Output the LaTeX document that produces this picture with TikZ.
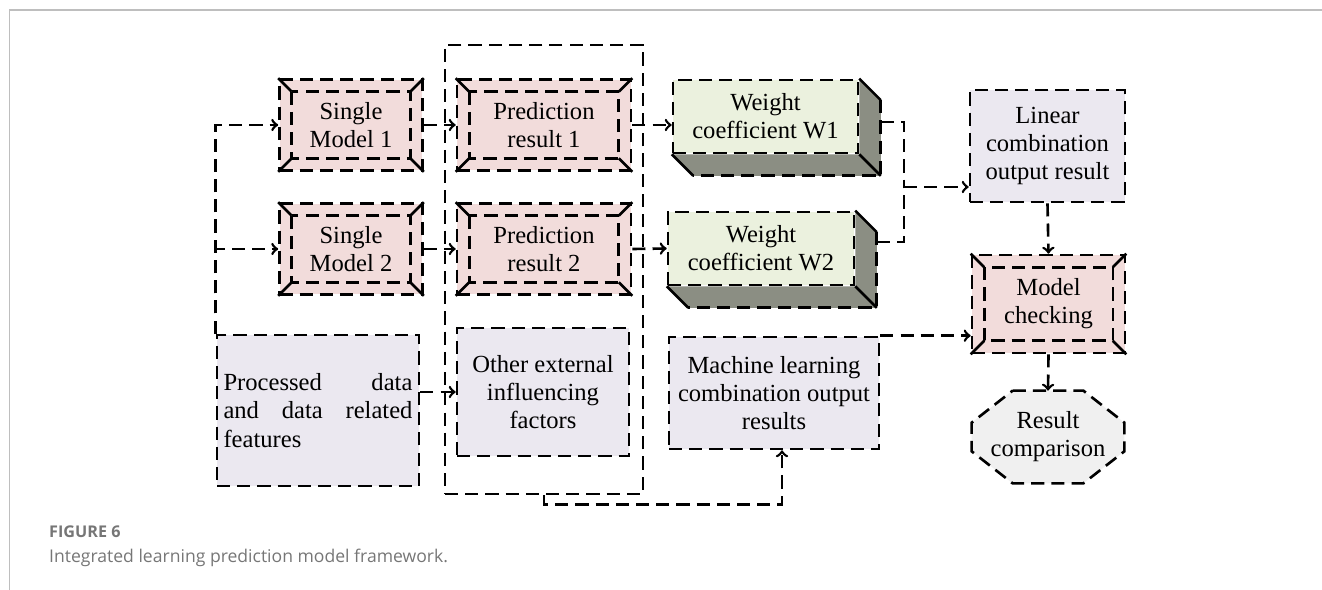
\documentclass[tikz,border=0pt]{standalone}
\usepackage{fontspec}
\setmainfont{Liberation Serif}
\newfontfamily\capfont{Open Sans}
\usetikzlibrary{arrows,calc,backgrounds}
\definecolor{bx_pink}{RGB}{242,220,219}
\definecolor{bx_green}{RGB}{235,241,222}
\definecolor{bx_shade}{RGB}{139,142,131}
\definecolor{bx_lilac}{RGB}{235,232,240}
\definecolor{bx_grey}{RGB}{240,240,240}
\definecolor{cap_grey}{RGB}{118,118,118}
\definecolor{frame_grey}{RGB}{190,190,190}
\tikzstyle{dsh}=[draw=black,line width=1.5pt,dash pattern=on 7.5pt off 4pt]
\tikzstyle{bev}=[rectangle,dsh,fill=bx_pink,align=center,inner sep=0pt,
  minimum width=2.86cm,minimum height=1.82cm,font=\fontsize{14}{16}\selectfont]
\tikzstyle{wt}=[rectangle,dsh,fill=bx_green,align=center,inner sep=0pt,
  minimum width=3.7cm,minimum height=1.46cm,font=\fontsize{14}{16}\selectfont]
\tikzstyle{lil}=[rectangle,dsh,fill=bx_lilac,align=center,inner sep=0pt,
  font=\fontsize{14}{16}\selectfont]
\tikzstyle{oct}=[rectangle,align=center,inner sep=0pt,minimum width=3.04cm,
  minimum height=1.84cm,font=\fontsize{14}{16}\selectfont]
\tikzstyle{con}=[dsh,->]
\newcommand{\bevelin}[1]{%
  \draw[dsh] ([shift={(0.27cm,-0.27cm)}]#1.north west) rectangle ([shift={(-0.27cm,0.27cm)}]#1.south east);
  \draw[line width=1.5pt] (#1.north west) -- ++(0.27cm,-0.27cm);
  \draw[line width=1.5pt] (#1.north east) -- ++(-0.27cm,-0.27cm);
  \draw[line width=1.5pt] (#1.south west) -- ++(0.27cm,0.27cm);
  \draw[line width=1.5pt] (#1.south east) -- ++(-0.27cm,0.27cm);}
\newcommand{\slab}[1]{%
  \begin{scope}[on background layer]
  \fill[bx_shade] (#1.north east) -- ++(0.43cm,-0.43cm) -- ([shift={(0.43cm,-0.43cm)}]#1.south east)
    -- ([shift={(0.43cm,-0.43cm)}]#1.south west) -- (#1.south west) -- (#1.south east) -- cycle;
  \end{scope}
  \draw[dsh] ([shift={(0.43cm,-0.43cm)}]#1.north east) -- ([shift={(0.43cm,-0.43cm)}]#1.south east)
    -- ([shift={(0.43cm,-0.43cm)}]#1.south west);
  \draw[line width=1.5pt] (#1.north east) -- ++(0.43cm,-0.43cm);
  \draw[line width=1.5pt] (#1.south east) -- ++(0.43cm,-0.43cm);
  \draw[line width=1.5pt] (#1.south west) -- ++(0.43cm,-0.43cm);}

\begin{document}
\begin{tikzpicture}[x=0.02cm,y=-0.02cm]
    \useasboundingbox (0,0) rectangle (1322,590);
    \draw[frame_grey,line width=1pt] (1322,10) -- (9.5,10) -- (9.5,590);

    \node[dsh,minimum width=3.96cm,minimum height=8.98cm] (grp) at (544,269.5) {};
    \node[style=bev] (sm1) at (351,125) {Single\\Model 1};
    \node[style=bev] (sm2) at (351,249) {Single\\Model 2};
    \node[style=bev,minimum width=3.48cm] (pr1) at (544,125) {Prediction\\result 1};
    \node[style=bev,minimum width=3.48cm] (pr2) at (544,249) {Prediction\\result 2};
    \node[style=lil,minimum width=3.44cm,minimum height=2.56cm] (other) at (543,392) {Other external\\influencing\\factors};
    \node[style=lil,minimum width=4.04cm,minimum height=3.02cm,text width=3.78cm,align=justify] (proc) at (318,410.5)
      {Processed data\linebreak and data related\linebreak features};
    \node[style=wt] (w1) at (765.5,116.5) {Weight\\coefficient W1};
    \node[style=wt,minimum width=3.72cm] (w2) at (761,248.5) {Weight\\coefficient W2};
    \node[style=lil,minimum width=3.1cm,minimum height=2.24cm] (lin) at (1047.5,146) {Linear\\combination\\output result};
    \node[style=bev,minimum width=3.06cm,minimum height=1.96cm] (mc) at (1048.5,304) {Model\\checking};
    \node[style=oct] (rc) at (1048,437) {Result\\comparison};
    \node[style=lil,minimum width=4.2cm,minimum height=2.24cm] (ml) at (774,393) {Machine learning\\combination output\\results};
    \coordinate (jm) at (904,187);

    \bevelin{sm1}
    \bevelin{sm2}
    \bevelin{pr1}
    \bevelin{pr2}
    \bevelin{mc}
    \slab{w1}
    \slab{w2}
    \begin{scope}[on background layer]
    \draw[dsh,fill=bx_grey] ([xshift=0.82cm]rc.north west) -- ([xshift=-0.82cm]rc.north east)
      -- ([yshift=-0.64cm]rc.north east) -- ([yshift=0.64cm]rc.south east)
      -- ([xshift=-0.82cm]rc.south east) -- ([xshift=0.82cm]rc.south west)
      -- ([yshift=0.64cm]rc.south west) -- ([yshift=-0.64cm]rc.north west) -- cycle;
    \end{scope}

    \draw[con] (proc.north west) |- (sm1.west);
    \draw[con] (proc.north west) |- (sm2.west);
    \draw[con] (sm1.east) to (pr1.west);
    \draw[con] (sm2.east) to (pr2.west);
    \draw[con] (proc.east |- other.west) to (other.west);
    \draw[con] (pr1.east) to (pr1.east -| w1.west);
    \draw[con] (pr2.east) to (w2.west);
    \draw[dsh] ([xshift=0.43cm,yshift=-0.11cm]w1.east) -| (jm);
    \draw[dsh] ([xshift=0.43cm,yshift=0.13cm]w2.east) -| (jm);
    \draw[con] (jm) to (jm -| lin.west);
    \draw[con] (lin.south) to (mc.north);
    \draw[con] (mc.south) to (rc.north);
    \draw[con] (ml.north east) to (ml.north east -| mc.west);
    \draw[con] (grp.south) -- ++(0,-0.18cm) -| ([xshift=0.16cm]ml.south);

    \node[anchor=base west,text=cap_grey,font=\capfont\bfseries\fontsize{9.2}{11}\selectfont] (fig) at (43,538) {FIGURE 6};
    \node[anchor=base west,text=cap_grey,font=\capfont\fontsize{10}{12}\selectfont] (cap) at (43,563) {Integrated learning prediction model framework.};
\end{tikzpicture}
\end{document}
